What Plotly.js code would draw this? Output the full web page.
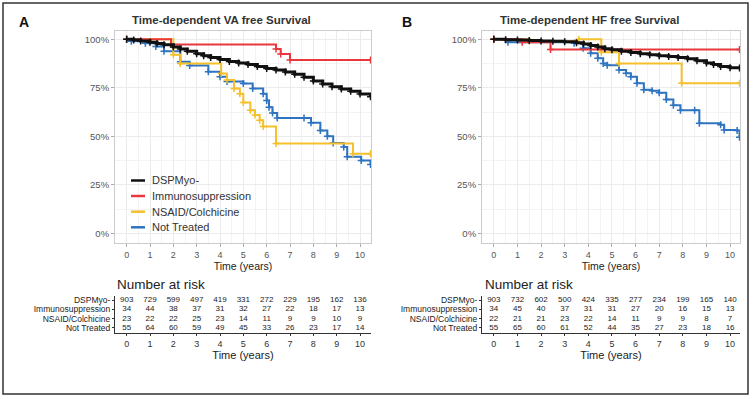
<!DOCTYPE html>
<html><head><meta charset="utf-8">
<script src="https://cdn.plot.ly/plotly-3.0.1.min.js"></script>
<style>html,body{margin:0;padding:0;background:#fff;} #chart{width:755px;height:399px;}</style>
</head><body><div id="chart"></div>
<script>
// ---------- data ----------
const groups = ['DSPMyo-', 'Immunosuppression', 'NSAID/Colchicine', 'Not Treated'];
const groupColors = ['#111111', '#E8383D', '#F5C02C', '#2F74C0'];

// Panel A: Time-dependent VA free survival (time in years, survival in %)
const tA_dsp = [0, 0.3, 0.6, 1.0, 1.3, 1.6, 2.0, 2.3, 2.6, 3.0, 3.3, 3.6, 4.0, 4.4, 4.8, 5.2, 5.6, 6.0, 6.4, 6.8, 7.2, 7.6, 8.0, 8.4, 8.8, 9.2, 9.6, 10.0, 10.45];
const sA_dsp = [100, 99.7, 99.2, 98.5, 97.8, 97.2, 96.0, 95.0, 93.8, 92.6, 91.6, 90.6, 89.6, 88.6, 87.8, 87.0, 86.0, 85.0, 84.2, 83.2, 82.0, 80.4, 78.5, 77.0, 75.6, 74.4, 73.2, 71.8, 70.4];
const tA_imm = [0, 1.9, 6.4, 6.6, 7.0, 10.45];
const sA_imm = [100, 97.3, 95, 92.5, 89.3, 89.3];
const tA_nsaid = [0, 2.0, 2.3, 4.05, 4.3, 4.6, 4.85, 5.0, 5.3, 5.5, 5.7, 5.85, 6.4, 9.7, 10.45];
const sA_nsaid = [100, 92, 87.6, 82.4, 79, 74.7, 72, 67.5, 63.5, 61, 58.3, 55, 46.3, 41, 41];
const tA_nt = [0, 0.2, 0.8, 1.25, 1.6, 2.3, 2.7, 3.5, 4.0, 4.3, 5.0, 5.4, 5.85, 6.0, 6.1, 6.25, 6.45, 7.6, 7.9, 8.3, 8.6, 8.85, 9.3, 9.45, 10.05, 10.45];
const sA_nt = [100, 99, 98, 96.3, 93.8, 88.5, 86.5, 83.3, 80.7, 78.2, 77.2, 74.7, 72, 68.5, 65, 62, 59.5, 59.5, 57, 53, 50, 46.5, 44.5, 39.5, 37.5, 35.5];

// Panel B: Time-dependent HF free survival
const tB_dsp = [0, 0.5, 1.0, 1.5, 2.0, 2.5, 3.0, 3.5, 3.8, 4.1, 4.4, 4.7, 5.0, 5.4, 5.8, 6.2, 6.6, 7.0, 7.4, 7.8, 8.2, 8.6, 9.0, 9.3, 9.6, 10.0, 10.4];
const sB_dsp = [100, 99.8, 99.6, 99.4, 99.2, 99.0, 98.8, 98.3, 97.6, 96.8, 96.0, 95.2, 94.6, 93.8, 93.2, 92.6, 92.0, 91.6, 91.2, 90.6, 90.0, 89.0, 87.8, 87.0, 86.0, 85.4, 85.2];
const tB_imm = [0, 1.2, 2.4, 10.4];
const sB_imm = [100, 98.5, 94.8, 94.8];
const tB_nsaid = [0, 1.5, 3.6, 4.55, 5.3, 7.95, 10.4];
const sB_nsaid = [100, 99, 100, 93.4, 87.6, 77.3, 77.3];
const tB_nt = [0, 0.6, 3.4, 3.78, 4.1, 4.4, 4.63, 4.8, 5.3, 5.6, 5.8, 6.06, 6.35, 6.7, 7.0, 7.3, 7.6, 7.9, 8.5, 8.7, 9.6, 9.75, 10.3, 10.4];
const sB_nt = [100, 98.5, 98, 95.4, 92.8, 90.2, 87.6, 86.7, 84.2, 82.5, 80.7, 77.3, 74, 73.5, 72.5, 69, 66, 63.5, 63.5, 56.8, 56, 53.3, 53, 49.5];

// Number at risk
const riskTimes = [0, 1, 2, 3, 4, 5, 6, 7, 8, 9, 10];
const riskA_dsp = [903, 729, 599, 497, 419, 331, 272, 229, 195, 162, 136];
const riskA_imm = [34, 44, 38, 37, 31, 32, 27, 22, 18, 17, 13];
const riskA_nsaid = [23, 22, 22, 25, 23, 14, 11, 9, 9, 10, 9];
const riskA_nt = [55, 64, 60, 59, 49, 45, 33, 26, 23, 17, 14];
const riskB_dsp = [903, 732, 602, 500, 424, 335, 277, 234, 199, 165, 140];
const riskB_imm = [34, 45, 40, 37, 31, 31, 27, 20, 16, 15, 13];
const riskB_nsaid = [22, 21, 21, 23, 22, 14, 11, 9, 9, 8, 7];
const riskB_nt = [55, 65, 60, 61, 52, 44, 35, 27, 23, 18, 16];

const yTickVals = [0, 25, 50, 75, 100];
const yTickText = ['0%', '25%', '50%', '75%', '100%'];
const titleA = 'Time-dependent VA free Survival';
const titleB = 'Time-dependent HF free Survival';

// ---------- layout helpers ----------
const W = 755, H = 399;
const FONT = 'Liberation Sans, Arial, sans-serif';
const px = v => v / W;
const py = v => 1 - v / H;

const curvesA = [[tA_dsp, sA_dsp], [tA_imm, sA_imm], [tA_nsaid, sA_nsaid], [tA_nt, sA_nt]];
const curvesB = [[tB_dsp, sB_dsp], [tB_imm, sB_imm], [tB_nsaid, sB_nsaid], [tB_nt, sB_nt]];
const riskA = [riskA_dsp, riskA_imm, riskA_nsaid, riskA_nt];
const riskB = [riskB_dsp, riskB_imm, riskB_nsaid, riskB_nt];

const traces = [];
function addCurves(curves, xa, ya) {
  const order = [3, 2, 1, 0];
  order.forEach(i => {
    traces.push({
      type: 'scatter', mode: 'lines+markers', x: curves[i][0], y: curves[i][1],
      xaxis: xa, yaxis: ya, name: groups[i], showlegend: false, hoverinfo: 'skip',
      line: {shape: 'hv', color: groupColors[i], width: i === 0 ? 3 : 2},
      marker: {symbol: 'cross-thin', size: 5, color: groupColors[i], line: {width: 1.5, color: groupColors[i]}}
    });
  });
}
addCurves(curvesA, 'x', 'y');
addCurves(curvesB, 'x2', 'y2');

function addRisk(risk, xa, ya) {
  risk.forEach((vals, i) => {
    traces.push({
      type: 'scatter', mode: 'text', x: riskTimes, y: riskTimes.map(() => groups[i]),
      text: vals.map(String), xaxis: xa, yaxis: ya, showlegend: false, hoverinfo: 'skip',
      textfont: {family: FONT, size: 8, color: '#1a1a1a'}, cliponaxis: false
    });
  });
}
addRisk(riskA, 'x3', 'y3');
addRisk(riskB, 'x4', 'y4');

const domA = [px(115), px(371)], rngA = [-0.5, 10.47];
const domB = [px(482), px(740)], rngB = [-0.5, 10.42];
const mainY = [py(243), py(31)];
const tabY = [py(333), py(296)];

function mainX(dom, rng, anchor) {
  return {
    domain: dom, range: rng, anchor: anchor, tickmode: 'array', tickvals: riskTimes,
    ticks: 'outside', ticklen: 3, tickcolor: '#aaaaaa', tickwidth: 1,
    tickfont: {family: FONT, size: 9, color: '#555555'},
    showline: true, mirror: true, linecolor: '#cccccc', linewidth: 1,
    showgrid: true, gridcolor: '#ebebeb', gridwidth: 1, zeroline: false,
    minor: {dtick: 0.5, tick0: 0, showgrid: true, gridcolor: '#f3f3f3', gridwidth: 1},
    title: {text: 'Time (years)', font: {family: FONT, size: 10.5, color: '#222222'}, standoff: 3}
  };
}
function mainYAx(anchor) {
  return {
    domain: mainY, range: [-5, 104.3], anchor: anchor, tickmode: 'array', tickvals: yTickVals,
    ticktext: yTickText, ticks: 'outside', ticklen: 3, tickcolor: '#aaaaaa',
    tickfont: {family: FONT, size: 9.5, color: '#555555'},
    showline: true, mirror: true, linecolor: '#cccccc', linewidth: 1,
    showgrid: true, gridcolor: '#ebebeb', zeroline: false,
    minor: {tickmode: 'array', tickvals: [12.5, 37.5, 62.5, 87.5], showgrid: true, gridcolor: '#f3f3f3'}
  };
}
function tabX(dom, rng, anchor) {
  return {
    domain: dom, range: rng, anchor: anchor, tickmode: 'array', tickvals: riskTimes,
    ticks: 'outside', ticklen: 2, tickcolor: '#333333',
    tickfont: {family: FONT, size: 9, color: '#333333'},
    showline: true, linecolor: '#333333', linewidth: 1, showgrid: false, zeroline: false,
    title: {text: 'Time (years)', font: {family: FONT, size: 11, color: '#222222'}, standoff: 0}
  };
}
function tabYAx(anchor) {
  return {
    domain: tabY, type: 'category', categoryorder: 'array',
    categoryarray: groups.slice().reverse(), range: [-0.54, 3.44], anchor: anchor,
    tickmode: 'array', tickvals: groups, ticktext: groups,
    ticks: 'outside', ticklen: 2, tickcolor: '#333333',
    tickfont: {family: FONT, size: 8.5, color: '#222222'},
    showline: true, linecolor: '#333333', linewidth: 1, showgrid: false, zeroline: false
  };
}

function ann(text, x, y, size, opts) {
  return Object.assign({
    text: text, x: px(x), y: py(y), xref: 'paper', yref: 'paper', showarrow: false,
    xanchor: 'center', yanchor: 'middle', font: {family: FONT, size: size, color: '#222222'}
  }, opts || {});
}

const annotations = [
  ann('<b>A</b>', 24, 22, 14, {font: {family: FONT, size: 14, color: '#111'}}),
  ann('<b>B</b>', 407, 22, 14, {font: {family: FONT, size: 14, color: '#111'}}),
  ann('<b>' + titleA + '</b>', 222, 20, 11.5, {font: {family: FONT, size: 11.5, color: '#333'}}),
  ann('<b>' + titleB + '</b>', 589, 20, 11.5, {font: {family: FONT, size: 11.5, color: '#333'}}),
  ann('Number at risk', 115, 284, 13.5, {xanchor: 'left', font: {family: FONT, size: 13.5, color: '#222'}}),
  ann('Number at risk', 483, 284, 13.5, {xanchor: 'left', font: {family: FONT, size: 13.5, color: '#222'}})
];
const legendY = [180.5, 196, 211.7, 227.3];
const shapes = [
  {type: 'rect', xref: 'paper', yref: 'paper', x0: px(3), x1: px(748), y0: py(394), y1: py(3),
   line: {color: '#333333', width: 1.5}}
];
groups.forEach((g, i) => {
  annotations.push(ann(g, 150, legendY[i], 11, {xanchor: 'left', font: {family: FONT, size: 11, color: '#333'}}));
  shapes.push({type: 'line', xref: 'paper', yref: 'paper', x0: px(131), x1: px(145), y0: py(legendY[i]), y1: py(legendY[i]),
    line: {color: groupColors[i], width: 2.5}});
});

const layout = {
  width: W, height: H, margin: {l: 0, r: 0, t: 0, b: 0},
  paper_bgcolor: '#ffffff', plot_bgcolor: '#ffffff', showlegend: false,
  font: {family: FONT},
  xaxis: mainX(domA, rngA, 'y'), yaxis: mainYAx('x'),
  xaxis2: mainX(domB, rngB, 'y2'), yaxis2: mainYAx('x2'),
  xaxis3: tabX(domA, rngA, 'y3'), yaxis3: tabYAx('x3'),
  xaxis4: tabX(domB, rngB, 'y4'), yaxis4: tabYAx('x4'),
  annotations: annotations, shapes: shapes
};

Plotly.newPlot('chart', traces, layout, {staticPlot: true, displayModeBar: false});
</script></body></html>
